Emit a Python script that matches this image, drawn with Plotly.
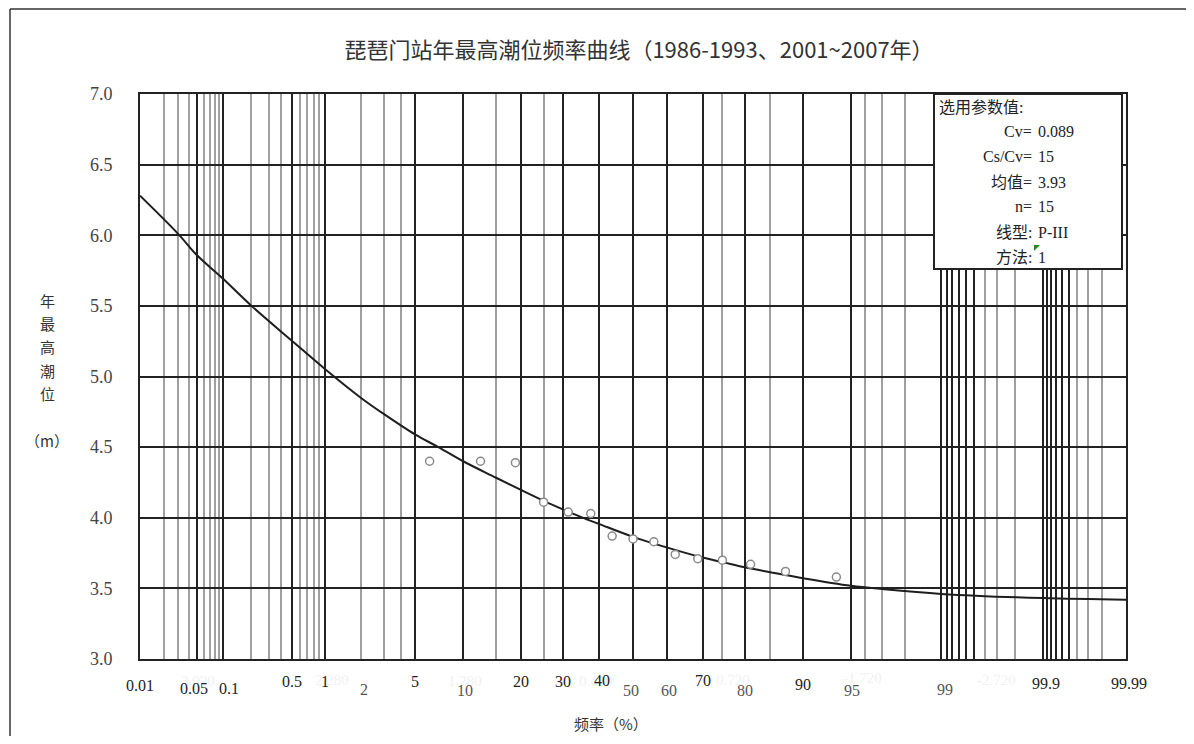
import plotly.graph_objects as go
from statistics import NormalDist

# ---------------- data ----------------
point_freq = [6.25, 12.5, 18.75, 25.0, 31.25, 37.5, 43.75, 50.0, 56.25, 62.5, 68.75, 75.0, 81.25, 87.5, 93.75]
point_val = [4.40, 4.40, 4.39, 4.11, 4.04, 4.03, 3.87, 3.85, 3.83, 3.74, 3.71, 3.70, 3.67, 3.62, 3.58]

curve_freq = [0.01, 0.03, 0.05, 0.1, 0.2, 0.5, 1, 2, 3, 5, 7.1, 10, 15, 20, 25, 30, 35, 40, 50,
              60, 70, 75, 80, 85, 90, 95, 97, 99, 99.9, 99.99]
curve_val = [6.28, 6.01, 5.86, 5.69, 5.50, 5.255, 5.055, 4.85, 4.735, 4.59, 4.50, 4.40, 4.285, 4.195,
             4.12, 4.058, 4.003, 3.955, 3.865, 3.79, 3.718, 3.686, 3.649, 3.614, 3.572, 3.518, 3.495,
             3.461, 3.431, 3.42]

x_tick_freq = [0.01, 0.05, 0.1, 0.5, 1, 2, 5, 10, 20, 30, 40, 50, 60, 70, 80, 90, 95, 99, 99.9, 99.99]
x_tick_text = ["0.01", "0.05", "0.1", "0.5", "1", "2", "5", "10", "20", "30", "40", "50", "60", "70",
               "80", "90", "95", "99", "99.9", "99.99"]

major_grid_freq = [0.05, 0.1, 0.5, 1, 5, 10, 20, 30, 40, 50, 60, 70, 80, 90, 95, 99,
                   99.1, 99.2, 99.3, 99.4, 99.5, 99.9, 99.91, 99.92, 99.93, 99.94, 99.95]
minor_grid_freq = [0.02, 0.03, 0.04, 0.06, 0.07, 0.08, 0.09, 0.2, 0.3, 0.4, 0.6, 0.7, 0.8, 0.9,
                   2, 3, 4, 15, 25, 75, 85, 96, 97, 98, 99.6, 99.7, 99.8, 99.96, 99.97, 99.98]

y_tick_vals = [3.0, 3.5, 4.0, 4.5, 5.0, 5.5, 6.0, 6.5, 7.0]
y_tick_text = ["3.0", "3.5", "4.0", "4.5", "5.0", "5.5", "6.0", "6.5", "7.0"]

param_labels = ["Cv=", "Cs/Cv=", "均值=", "n=", "线型:", "方法:"]
param_values = ["0.089", "15", "3.93", "15", "P-III", "1"]

faint_text = ["3.020", "2.280", "1.280", "0.480", "0.720", "-1.720", "-2.720"]

title_text = "琵琶门站年最高潮位频率曲线（1986-1993、2001~2007年）"

# ---------------- probability-paper scale ----------------
nd = NormalDist()
def z(p):
    return nd.inv_cdf(p / 100.0)

# screen geometry (page has an 8px body margin)
OFF = 8
FW, FH = 1194 - 2 * OFF, 744 - 2 * OFF
L, R, T, B = 140, 1126, 94, 659          # plot area in screen pixels
def px2x(px):
    return (px - L) / (R - L)
def py2y(py):
    return (B - py) / (B - T)

SERIF = "Liberation Serif, Noto Sans CJK SC, serif"
CJK = "Noto Sans CJK SC, sans-serif"

fig = go.Figure()
fig.add_trace(go.Scatter(
    x=[z(f) for f in curve_freq], y=curve_val, mode="lines",
    line=dict(color="#1e1e1e", width=2, shape="spline", smoothing=1.0),
    hoverinfo="skip", showlegend=False))
fig.add_trace(go.Scatter(
    x=[z(f) for f in point_freq], y=point_val, mode="markers",
    marker=dict(symbol="circle", size=8, color="white", line=dict(color="#8a8a8a", width=1.5)),
    showlegend=False))

fig.update_xaxes(
    range=[z(0.01), z(99.99)], tickmode="array", tickvals=[z(f) for f in major_grid_freq],
    showticklabels=False, ticks="", showgrid=True, gridcolor="#222222", gridwidth=1.8,
    zeroline=False, showline=True, linecolor="#222222", linewidth=2, mirror=True,
    minor=dict(tickmode="array", tickvals=[z(f) for f in minor_grid_freq], showgrid=True,
               gridcolor="#a0a0a0", gridwidth=1.6, ticks=""))
fig.update_yaxes(
    range=[3, 7], tickmode="array", tickvals=y_tick_vals, ticktext=y_tick_text,
    ticks="", ticklabelstandoff=22, tickfont=dict(family=SERIF, size=18, color="#444444"),
    showgrid=True, gridcolor="#222222", gridwidth=1.8, zeroline=False,
    showline=True, linecolor="#222222", linewidth=2, mirror=True)

ann = []
def text_at(px, py, text, size, family, color, xanchor="center"):
    ann.append(dict(x=px2x(px), y=py2y(py), xref="paper", yref="paper", xanchor=xanchor,
                    yanchor="middle", text=text, showarrow=False,
                    font=dict(family=family, size=size, color=color)))

# faint background labels (near-invisible artifacts in original)
faint_px = [198, 332, 465, 596, 733, 862, 996]
faint_py = [681, 680, 681, 681, 680, 678, 680]
for t, px, py in zip(faint_text, faint_px, faint_py):
    text_at(px, py, t, 15, SERIF, "#f1f1f1")

# x tick labels, staggered as in the original
lab_cy = [685, 688, 688, 681, 681, 689, 681, 690, 681, 681, 680, 690, 690, 680, 690, 684, 690, 689, 683, 683]
lab_dx = [0, -3, 6, 0, 0, 3, 0, 2, 0, 0, 3, -2, 2, 0, 0, 0, 1, 4, 3, 3]
lab_low = {"2", "10", "50", "60", "80", "95", "99"}
for f, t, cy, dx in zip(x_tick_freq, x_tick_text, lab_cy, lab_dx):
    ann.append(dict(x=z(f), y=0, xref="x", yref="paper", yanchor="middle", xanchor="center",
                    yshift=-(cy - B), xshift=dx, text=t, showarrow=False,
                    font=dict(family=SERIF, size=16, color="#555555" if t in lab_low else "#222222")))

# y-axis title (vertical characters)
for ch, py in zip(["年", "最", "高", "潮", "位", "（m）"], [300, 323, 346, 370, 393, 440]):
    text_at(47, py, ch, 15, CJK, "#333333")

# x-axis title
text_at(611, 723, "频率（%）", 15, CJK, "#333333")

# parameter box text
text_at(937, 107, "选用参数值:", 16, SERIF, "#222222", xanchor="left")
for lab, val, py in zip(param_labels, param_values, [131, 156, 182, 207, 232, 257]):
    text_at(1034, py, lab, 16, SERIF, "#222222", xanchor="right")
    text_at(1036, py, val, 16, SERIF, "#222222", xanchor="left")

shapes = [
    dict(type="rect", xref="paper", yref="paper", x0=px2x(934), x1=px2x(1122), y0=py2y(269), y1=py2y(94),
         fillcolor="white", line=dict(color="#222222", width=2), layer="above"),
    dict(type="path", xref="paper", yref="paper",
         path=f"M {px2x(1034)} {py2y(245)} L {px2x(1040)} {py2y(245)} L {px2x(1034)} {py2y(251)} Z",
         fillcolor="#1a8f1a", line=dict(width=0), layer="above"),
    dict(type="line", xref="paper", yref="paper", x0=px2x(10), x1=px2x(1200), y0=py2y(9), y1=py2y(9),
         line=dict(color="#333333", width=1.5)),
    dict(type="line", xref="paper", yref="paper", x0=px2x(10), x1=px2x(10), y0=py2y(9), y1=py2y(760),
         line=dict(color="#333333", width=1.5)),
]

fig.update_layout(
    width=FW, height=FH,
    margin=dict(l=L - OFF, r=FW - (R - OFF), t=T - OFF, b=FH - (B - OFF)),
    paper_bgcolor="white", plot_bgcolor="white",
    title=dict(text=title_text, x=(639 - OFF) / FW, xanchor="center", y=1 - (50 - OFF) / FH,
               yanchor="middle", font=dict(family=CJK, size=22, color="#333333")),
    annotations=ann, shapes=shapes, showlegend=False)

fig.write_html("out.html")
